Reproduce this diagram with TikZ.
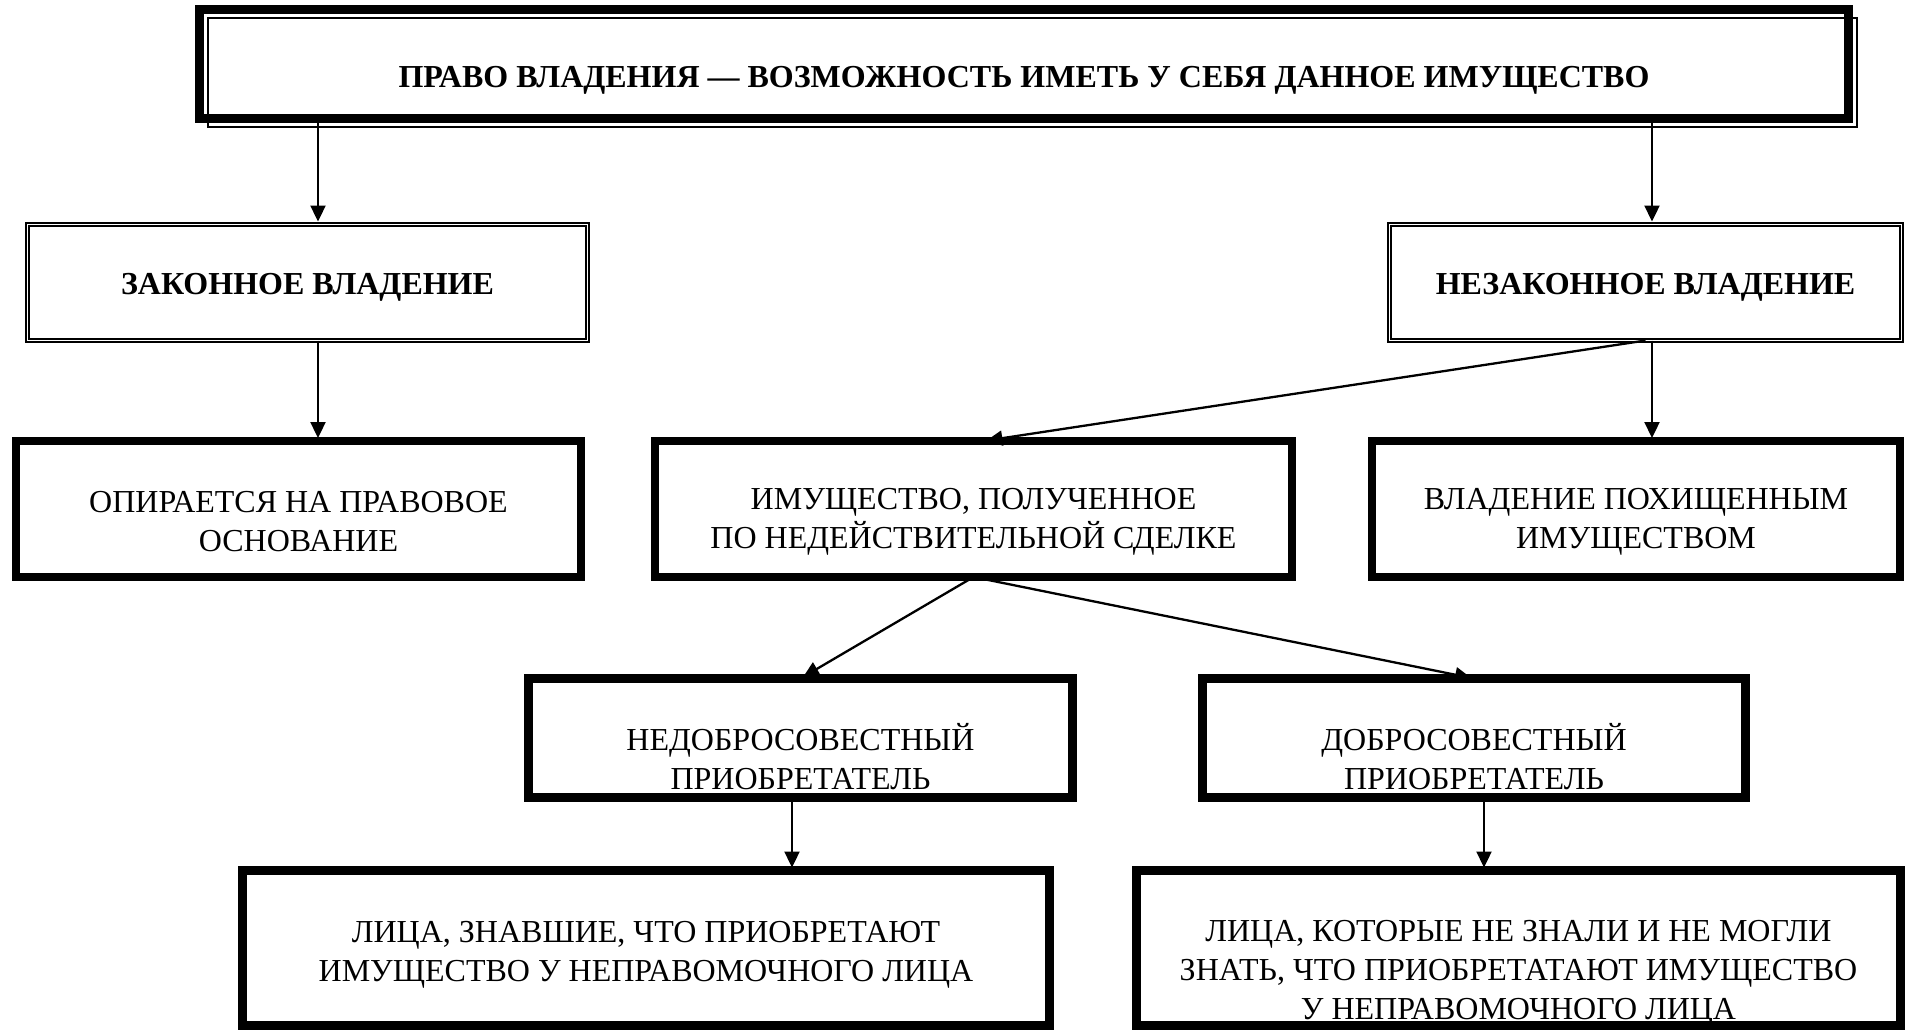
\documentclass[tikz,border=0pt]{standalone}
\usepackage{fontspec}
\setmainfont{Liberation Serif}
\usetikzlibrary{arrows.meta,positioning,calc}

\begin{document}
\begin{tikzpicture}[x=1pt, y=-1pt, >={Triangle[length=8pt,width=7.5pt]}]
  % Styles
  \tikzstyle{frame} = [draw, rectangle, inner sep=0pt, outer sep=0pt]
  \tikzstyle{mainbox} = [frame, line width=4.5pt]
  \tikzstyle{dblbox} = [frame, line width=0.8pt, double, double distance=0.7pt]
  \tikzstyle{thickbox} = [frame, line width=4pt]
  \tikzstyle{heavybox} = [frame, line width=4.5pt]
  \tikzstyle{txt} = [align=center, inner sep=0pt, font=\fontsize{16}{19.5}\selectfont]
  \tikzstyle{btxt} = [txt, font=\fontsize{16}{19.5}\selectfont\bfseries]
  \tikzstyle{conn} = [->, line width=1.15pt, shorten >=1.5pt]

  \useasboundingbox (0,0) rectangle (954,515);

  % Nodes
  \node [mainbox, minimum width=824.5pt, minimum height=54.5pt] (pravo) at (512,32) {};
  \draw [line width=1pt] ([shift={(4pt,-4pt)}]pravo.north west) rectangle ([shift={(4pt,-4pt)}]pravo.south east);
  \node [btxt] (pravo-t) at ([yshift=-8pt]pravo) {ПРАВО ВЛАДЕНИЯ — ВОЗМОЖНОСТЬ ИМЕТЬ У СЕБЯ ДАННОЕ ИМУЩЕСТВО};

  \node [dblbox, minimum width=280pt, minimum height=58pt] (zak) at (153.75,141.25) {};
  \node [btxt] (zak-t) at ([yshift=-2.5pt]zak) {ЗАКОННОЕ ВЛАДЕНИЕ};
  \node [dblbox, minimum width=256pt, minimum height=58pt] (nezak) at (822.75,141.25) {};
  \node [btxt] (nezak-t) at ([yshift=-2.5pt]nezak) {НЕЗАКОННОЕ ВЛАДЕНИЕ};

  \node [thickbox, minimum width=282.5pt, minimum height=68pt] (opir) at (149.25,254.5) {};
  \node [txt] (opir-t) at ([yshift=-6.5pt]opir) {ОПИРАЕТСЯ НА ПРАВОВОЕ\\ОСНОВАНИЕ};
  \node [thickbox, minimum width=318.5pt, minimum height=68pt] (imush) at (486.75,254.5) {};
  \node [txt] (imush-t) at ([yshift=-6.5pt]imush) {ИМУЩЕСТВО, ПОЛУЧЕННОЕ\\ПО НЕДЕЙСТВИТЕЛЬНОЙ СДЕЛКЕ};
  \node [thickbox, minimum width=264pt, minimum height=68pt] (vlad) at (818,254.5) {};
  \node [txt] (vlad-t) at ([yshift=-6.5pt]vlad) {ВЛАДЕНИЕ ПОХИЩЕННЫМ\\ИМУЩЕСТВОМ};

  \node [heavybox, minimum width=272pt, minimum height=59.5pt] (nedobr) at (400.25,369) {};
  \node [txt] (nedobr-t) at ([yshift=-9.4pt]nedobr) {НЕДОБРОСОВЕСТНЫЙ\\ПРИОБРЕТАТЕЛЬ};
  \node [heavybox, minimum width=271.5pt, minimum height=59.5pt] (dobr) at (737,369) {};
  \node [txt] (dobr-t) at ([yshift=-9.4pt]dobr) {ДОБРОСОВЕСТНЫЙ\\ПРИОБРЕТАТЕЛЬ};

  \node [heavybox, minimum width=403.5pt, minimum height=77.5pt] (lica1) at (323,474) {};
  \node [txt] (lica1-t) at ([yshift=-3.5pt]lica1) {ЛИЦА, ЗНАВШИЕ, ЧТО ПРИОБРЕТАЮТ\\ИМУЩЕСТВО У НЕПРАВОМОЧНОГО ЛИЦА};
  \node [heavybox, minimum width=382pt, minimum height=77.5pt] (lica2) at (759.25,474) {};
  \node [txt] (lica2-t) at ([yshift=-12.5pt]lica2) {ЛИЦА, КОТОРЫЕ НЕ ЗНАЛИ И НЕ МОГЛИ\\ЗНАТЬ, ЧТО ПРИОБРЕТАТАЮТ ИМУЩЕСТВО\\У НЕПРАВОМОЧНОГО ЛИЦА};

  % Connections
  \draw [conn] ([xshift=5.25pt]zak.north |- pravo.south) -- ([xshift=5.25pt]zak.north);
  \draw [conn] ([xshift=3.25pt]nezak.north |- pravo.south) -- ([xshift=3.25pt]nezak.north);
  \draw [conn] ([xshift=5.25pt]zak.south) -- ([xshift=5.25pt]zak.south |- opir.north);
  \draw [conn] ([xshift=3.25pt]nezak.south) -- ([xshift=3.25pt]nezak.south |- vlad.north);
  \draw [conn] (nezak.south) -- ([xshift=5pt]imush.north);
  \draw [conn] (imush.south) -- (nedobr.north);
  \draw [conn] (imush.south) -- (dobr.north);
  \draw [conn] ([xshift=-4.25pt]nedobr.south) -- ([xshift=-4.25pt]nedobr.south |- lica1.north);
  \draw [conn] ([xshift=5pt]dobr.south) -- ([xshift=5pt]dobr.south |- lica2.north);

\end{tikzpicture}
\end{document}
